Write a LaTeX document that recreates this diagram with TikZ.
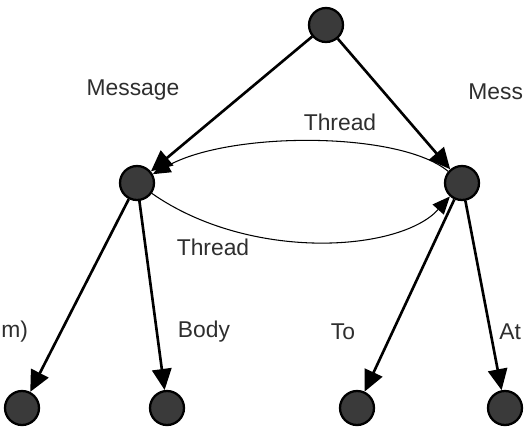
\documentclass[tikz,border=0pt]{standalone}
\usepackage{fontspec}
\setmainfont{Liberation Sans}
\usetikzlibrary{arrows.meta}

\definecolor{dotfill}{HTML}{3A3A3A}
\definecolor{labelink}{HTML}{2E2E2E}

\begin{document}
\begin{tikzpicture}[
  x=0.02cm,y=-0.02cm,
  font=\fontsize{13}{15}\selectfont,
  dot/.style={circle,draw=black,fill=dotfill,line width=1.3pt,
              minimum size=0.68cm,inner sep=0pt},
  edge/.style={line width=1.5pt,-{Triangle[length=12pt,width=11pt]}},
  link/.style={line width=.6pt,-{Triangle[length=10pt,width=8.5pt]}},
  tag/.style={text=labelink,inner sep=0pt}
]
  \path[use as bounding box] (0,0) rectangle (531,444);
  % Root and the two message nodes.
  \node[dot] (root) at (326,25) {};
  \node[dot] (msgL) at (137,183) {};
  \node[dot] (msgR) at (462,183) {};
  % Leaves along the bottom row.
  \foreach \x/\name in {22/from,167/body,357/to,505/att}{
    \node[dot] (\name) at (\x,408) {};
  }
  \draw[edge] (root) -- (msgL);
  \draw[edge] (root) -- (msgR);
  \draw[link] (msgR) .. controls (400,131) and (230,131) .. (msgL);
  \draw[link] (msgL) .. controls (250,262) and (400,252) .. (msgR);
  \draw[edge] (msgL) -- (from);
  \draw[edge] (msgL) -- (body);
  \draw[edge] (msgR) -- (to);
  \draw[edge] (msgR) -- (att);
  % Edge labels.
  \node[tag] (tMsgL) at (133,90) {Message};
  \node[tag,anchor=west] (tMsgR) at (468,92) {Mess};
  \node[tag] (tThrUp) at (340,122) {Thread};
  \node[tag] (tThrDn) at (213,247) {Thread};
  \node[tag,anchor=west] (tFrom) at (1,332) {m)};
  \node[tag] (tBody) at (204,332) {Body};
  \node[tag] (tTo) at (343,332) {To};
  \node[tag,anchor=west] (tAtt) at (499,332) {At};
\end{tikzpicture}
\end{document}
